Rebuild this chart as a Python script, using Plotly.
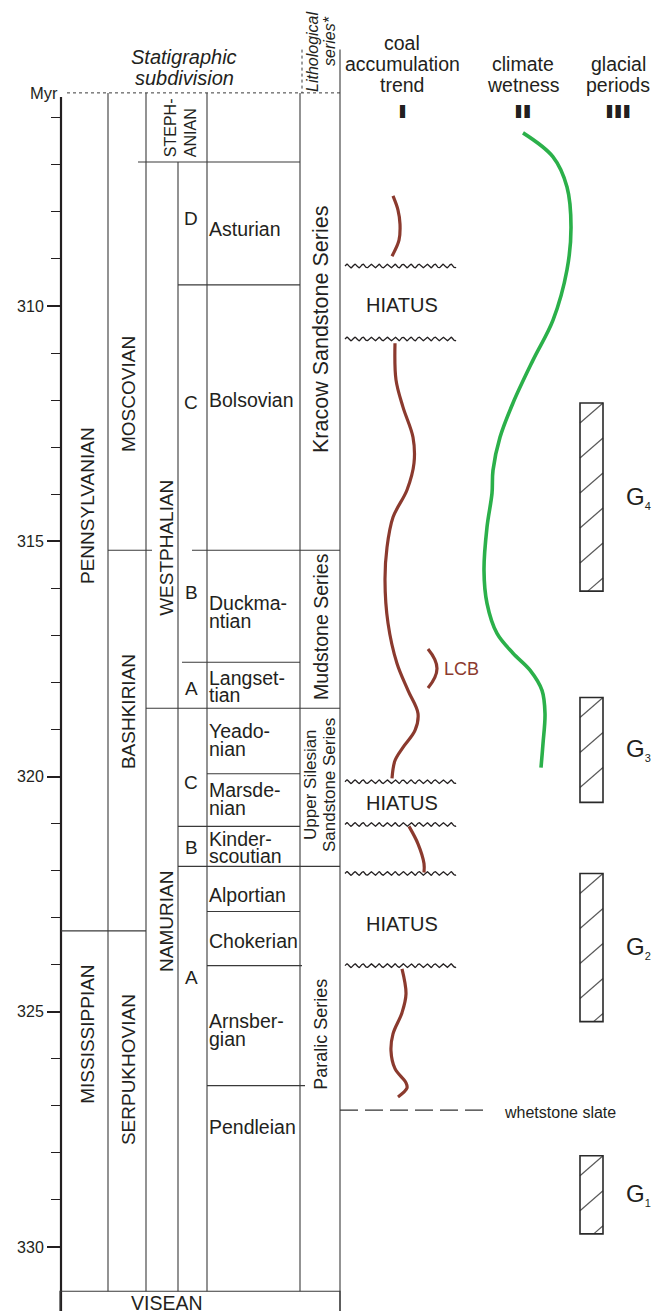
import numpy as np
import plotly.graph_objects as go

W, H = 662, 1311
PX_PER_MYR = 47.05
AGE_AT_TOP = 303.496
AGE_AT_BOTTOM = AGE_AT_TOP + H / PX_PER_MYR

# ---------------- time scale (Myr) ----------------
tick_major = [310, 315, 320, 325, 330]
tick_minor = list(range(306, 331))
chart_top = 305.47
chart_base = 330.94

# ---------------- stratigraphic units ----------------
subsystems = ["PENNSYLVANIAN", "MISSISSIPPIAN"]
subsystem_bounds = [305.47, 323.28, 330.94]
stages = ["MOSCOVIAN", "BASHKIRIAN", "SERPUKHOVIAN"]
stage_bounds = [305.47, 315.19, 323.28, 330.94]
series_names = ["STEPH-|ANIAN", "WESTPHALIAN", "NAMURIAN"]
series_bounds = [305.47, 306.94, 318.55, 330.94]
subseries = ["D", "C", "B", "A", "C", "B", "A"]
subseries_bounds = [306.94, 309.55, 315.19, 317.57, 318.55, 321.06, 321.91, 330.94]
zones = ["Asturian", "Bolsovian", "Duckma-|ntian", "Langset-|tian", "Yeado-|nian",
         "Marsde-|nian", "Kinder-|scoutian", "Alportian", "Chokerian", "Arnsber-|gian",
         "Pendleian"]
zone_bounds = [306.94, 309.55, 315.19, 317.57, 318.55, 319.94, 321.06, 321.91,
               322.87, 324.02, 326.57, 330.94]
litho = ["Kracow Sandstone Series", "Mudstone Series",
         "Upper Silesian|Sandstone Series", "Paralic Series"]
litho_bounds = [305.47, 315.19, 318.55, 321.91, 330.94]
whetstone_slate_age = 327.09

# ---------------- coal accumulation trend (I) ----------------
coal_age = [
    [307.66, 307.96, 308.26, 308.60, 308.94],
    [310.79, 311.57, 312.15, 312.79, 313.34, 313.91, 314.49, 315.13, 315.83,
     316.74, 317.60, 318.17, 318.66, 319.02, 319.38, 319.66, 320.04],
    [321.06, 321.43, 321.85, 322.04],
    [324.09, 324.62, 325.02, 325.47, 325.83, 326.21, 326.51, 326.62, 326.81],
]
coal_trend = [
    [-9, -4, -2, -3, -10],
    [-7, -6, 1, 11, 12, 5, -9, -15, -17, -14, -5, 6, 16, 13, 1, -7, -10],
    [7, 16, 22, 22],
    [0, 4, 0, -9, -11, -7, 4, 5, -4],
]
hiatus = [(309.15, 310.70), (320.11, 321.02), (322.06, 324.02)]
hiatus_label_age = [309.98, 320.57, 323.13]
lcb_interval = (317.29, 318.12)

# ---------------- climate wetness (II) ----------------
wet_age = [306.32, 306.83, 307.47, 308.32, 309.23, 310.30, 311.15, 312.06, 312.79,
           313.49, 313.98, 314.70, 315.62, 316.32, 316.96, 317.38, 317.74, 318.17,
           318.66, 319.30, 319.81]
wetness = [0, 30, 44, 48, 44, 30, 10, -10, -23, -30, -31, -36, -39, -36, -26, -10,
           7, 19, 22, 20, 18]

# ---------------- glacial periods (III) ----------------
glacials = ["G4", "G3", "G2", "G1"]
glacial_top = [312.06, 318.32, 322.06, 328.06]
glacial_base = [316.06, 320.55, 325.21, 329.72]

# ---------------- styling ----------------
FONT = "Liberation Sans, Arial, sans-serif"
TXT = "#231f20"
LINE = "#3a3a3a"
BROWN = "#8b3a2e"
GREEN = "#2bb04a"

# column edges (x in plot units = px)
X_AXIS, X_STAGE, X_SERIES, X_SUB, X_ZONE, X_LITHO, X_END = 61, 108, 146, 178, 207, 300, 340
COAL_X, WET_X = 402, 523
GL_X0, GL_X1 = 580, 603

fig = go.Figure()
shapes, ann = [], []


def seg(x0, x1, y0, y1, color=LINE, width=1.1, dash=None, yref="y"):
    line = dict(color=color, width=width)
    if dash:
        line["dash"] = dash
    shapes.append(dict(type="line", xref="x", yref=yref, x0=x0, x1=x1, y0=y0, y1=y1,
                       line=line, layer="above"))


def label(x, age, text, size=19.5, angle=0, xanchor="center", yanchor="middle",
          color=TXT, yref="y"):
    ann.append(dict(x=x, y=age, xref="x", yref=yref, text=text, showarrow=False,
                    textangle=angle, xanchor=xanchor, yanchor=yanchor,
                    font=dict(family=FONT, size=size, color=color)))


def py(px):
    return 1 - px / H


# ---- frame: top dotted line, vertical column lines ----
seg(67, X_END, chart_top, chart_top, width=1, dash="dot")
seg(X_AXIS, X_AXIS, chart_top + 0.09, AGE_AT_BOTTOM, color="#231f20", width=2.2)
for xv in (X_STAGE, X_SERIES, X_ZONE, X_LITHO):
    seg(xv, xv, chart_top, chart_base)
seg(X_SUB, X_SUB, series_bounds[1], chart_base)
seg(X_END, X_END, chart_top - 0.92, AGE_AT_BOTTOM)
seg(X_LITHO + 2, X_LITHO + 2, chart_top - 0.92, chart_top, width=1, dash="dot")

# ---- horizontal boundaries ----
seg(X_STAGE, 152, stage_bounds[1], stage_bounds[1])
seg(192, X_END, stage_bounds[1], stage_bounds[1])
seg(X_AXIS, X_SERIES, subsystem_bounds[1], subsystem_bounds[1])
seg(138, X_LITHO, series_bounds[1], series_bounds[1])
seg(X_SERIES, X_END, series_bounds[2], series_bounds[2])
seg(X_SUB, X_LITHO, subseries_bounds[1], subseries_bounds[1])
seg(182, X_LITHO, subseries_bounds[3], subseries_bounds[3])
seg(X_SUB, X_LITHO, subseries_bounds[5], subseries_bounds[5])
seg(X_SUB, X_END, subseries_bounds[6], subseries_bounds[6])
seg(X_ZONE, X_LITHO, zone_bounds[5], zone_bounds[5])
seg(X_ZONE, X_LITHO, zone_bounds[8], zone_bounds[8])
seg(X_ZONE, X_LITHO + 2, zone_bounds[9], zone_bounds[9])
seg(X_ZONE, X_LITHO + 5, zone_bounds[10], zone_bounds[10])

# ---- underlying Visean box ----
shapes.append(dict(type="rect", xref="x", yref="y", x0=X_AXIS - 1, x1=X_END,
                   y0=chart_base, y1=AGE_AT_BOTTOM + 1, line=dict(color=LINE, width=1.2),
                   fillcolor="rgba(0,0,0,0)", layer="above"))
label(167, chart_base + 0.26, "VISEAN", size=19.5)

# ---- column labels ----
sub_lab_age = [314.25, 325.49]
for name, a in zip(subsystems, sub_lab_age):
    label(88, a, name, size=19, angle=-90)
stage_lab_age = [311.87, 318.63, 326.24]
for name, a in zip(stages, stage_lab_age):
    label(128, a, name, size=19, angle=-90)
# Stephanian (two rotated lines, bottom-aligned)
for txt, xx in zip(series_names[0].split("|"), (170, 190)):
    label(xx, series_bounds[1] - 0.05, txt, size=16, angle=-90, yanchor="bottom")
label(167, 315.14, series_names[1], size=19, angle=-90)
label(167, 323.09, series_names[2], size=19, angle=-90)

subseries_lab_age = [308.13, 312.06, 316.08, 318.12, 320.12, 321.50, 324.28]
for name, a in zip(subseries, subseries_lab_age):
    label(191, a, name, size=19)

zone_lab_age = [308.36, 312.00, 316.50, 318.09, 319.22, 320.48, 321.51, 322.52,
                323.50, 325.39, 327.45]
LINE_GAP = 17.5 / PX_PER_MYR
for name, a in zip(zones, zone_lab_age):
    parts = name.split("|")
    if len(parts) == 1:
        label(X_ZONE, a, parts[0], size=19.5, xanchor="left")
    else:
        label(X_ZONE, a - LINE_GAP / 2, parts[0], size=19.5, xanchor="left")
        label(X_ZONE, a + LINE_GAP / 2, parts[1], size=19.5, xanchor="left")

litho_lab_age = [310.51, 316.82, 320.18, 325.49]
label(321, litho_lab_age[0], litho[0], size=21.5, angle=-90)
label(321, litho_lab_age[1], litho[1], size=19.5, angle=-90)
l1, l2 = litho[2].split("|")
label(311, litho_lab_age[2], l1, size=17, angle=-90)
label(330, litho_lab_age[2], l2, size=17, angle=-90)
label(321, litho_lab_age[3], litho[3], size=18, angle=-90)

# ---- hiatus surfaces (wavy lines) ----
wx = np.linspace(345, 456, 300)
amp = 1.8 / PX_PER_MYR
for top, base in hiatus:
    for a in (top, base):
        fig.add_trace(go.Scatter(x=wx, y=a - amp * np.sin(2 * np.pi * (wx - 345) / 8.0),
                                 mode="lines", line=dict(color="#231f20", width=1.3),
                                 hoverinfo="skip", showlegend=False))
for a in hiatus_label_age:
    label(COAL_X, a, "HIATUS", size=20)

# ---- coal accumulation trend ----
for ages, tr in zip(coal_age, coal_trend):
    fig.add_trace(go.Scatter(x=[COAL_X + t for t in tr], y=ages, mode="lines",
                             line=dict(color=BROWN, width=3.2, shape="spline", smoothing=1.0),
                             hoverinfo="skip", showlegend=False))
# LCB bracket
lt, lb = lcb_interval
fig.add_trace(go.Scatter(x=[428, 437, 428], y=[lt, (lt + lb) / 2, lb], mode="lines",
                         line=dict(color=BROWN, width=3.2, shape="spline", smoothing=1.3),
                         hoverinfo="skip", showlegend=False))
label(442, (lt + lb) / 2, "LCB", size=18, xanchor="left", color=BROWN)

# whetstone slate marker
seg(X_END, 488, whetstone_slate_age, whetstone_slate_age, color="#333333", width=1.3,
    dash="18px,7px")
label(502, whetstone_slate_age + 0.06, "whetstone slate", size=16, xanchor="left")

# ---- climate wetness ----
fig.add_trace(go.Scatter(x=[WET_X + w for w in wetness], y=wet_age, mode="lines",
                         line=dict(color=GREEN, width=3.6, shape="spline", smoothing=1.0),
                         hoverinfo="skip", showlegend=False))

# ---- glacial periods ----
HATCH_RISE = 20 / PX_PER_MYR
HATCH_STEP = 35 / PX_PER_MYR
for g, top, base in zip(glacials, glacial_top, glacial_base):
    k = 0
    while top + k * HATCH_STEP < base - 1e-6:
        y_right = top + k * HATCH_STEP
        y_left = y_right + HATCH_RISE
        x_left = GL_X0
        if y_left > base:
            t0 = (y_left - base) / HATCH_RISE
            x_left = GL_X0 + t0 * (GL_X1 - GL_X0)
            y_left = base
        seg(x_left, GL_X1, y_left, y_right, color="#5a5a5a", width=1.2)
        k += 1
    shapes.append(dict(type="rect", xref="x", yref="y", x0=GL_X0, x1=GL_X1, y0=top, y1=base,
                       line=dict(color="#2a2a2a", width=1.6), fillcolor="rgba(0,0,0,0)",
                       layer="above"))
    ann.append(dict(x=624, y=(top + base) / 2, xref="x", yref="y", showarrow=False,
                    xanchor="left", yanchor="middle",
                    text="G<sub><span style='font-size:11px'>%s</span></sub>" % g[1:],
                    font=dict(family=FONT, size=24, color=TXT)))

# ---- headers ----
def header(x, ypx, text, size=19.5, angle=0, xanchor="center"):
    ann.append(dict(x=x, y=py(ypx), xref="x", yref="paper", text=text, showarrow=False,
                    textangle=angle, xanchor=xanchor, yanchor="middle",
                    font=dict(family=FONT, size=size, color=TXT)))

header(60, 93, "Myr", size=16.5, xanchor="right")
header(184, 57, "<i>Statigraphic</i>", size=20)
header(184, 78, "<i>subdivision</i>", size=20)
header(313, 52, "<i>Lithological</i>", size=16, angle=-90)
header(329, 41, "<i>series*</i>", size=16, angle=-90)
header(COAL_X, 43, "coal")
header(COAL_X, 64, "accumulation")
header(COAL_X, 85, "trend")
header(WET_X, 64, "climate")
header(WET_X, 85, "wetness")
header(618, 64, "glacial")
header(618, 85, "periods")
# heavy column numerals (thin-spaced, thickened with a horizontal text shadow)
THICK = ("1.3px 0 0 #231f20, -1.3px 0 0 #231f20, "
         "0.7px 0 0 #231f20, -0.7px 0 0 #231f20")
for txt, xx in (("I", COAL_X), ("II", WET_X), ("III", 618)):
    ann.append(dict(x=xx, y=py(112), xref="x", yref="paper",
                    text="<b>%s</b>" % "\u2009".join(txt),
                    showarrow=False, xanchor="center", yanchor="middle",
                    font=dict(family=FONT, size=18, color=TXT, shadow=THICK)))

fig.update_layout(
    width=W, height=H, margin=dict(l=0, r=0, t=0, b=0),
    paper_bgcolor="white", plot_bgcolor="white",
    shapes=shapes, annotations=ann, showlegend=False,
    xaxis=dict(range=[0, W], visible=False, domain=[0, 1], fixedrange=True),
    yaxis=dict(range=[AGE_AT_BOTTOM, AGE_AT_TOP], anchor="free", position=X_AXIS / W,
               showgrid=False, zeroline=False, showline=False,
               tickmode="array", tickvals=tick_major, ticks="outside", ticklen=14,
               tickwidth=1.6, tickcolor="#231f20",
               tickfont=dict(family=FONT, size=16, color=TXT),
               minor=dict(tickmode="array", tickvals=tick_minor, ticks="outside",
                          ticklen=10, tickwidth=1.4, tickcolor="#231f20"),
               fixedrange=True),
)

fig.write_html("out.html")
